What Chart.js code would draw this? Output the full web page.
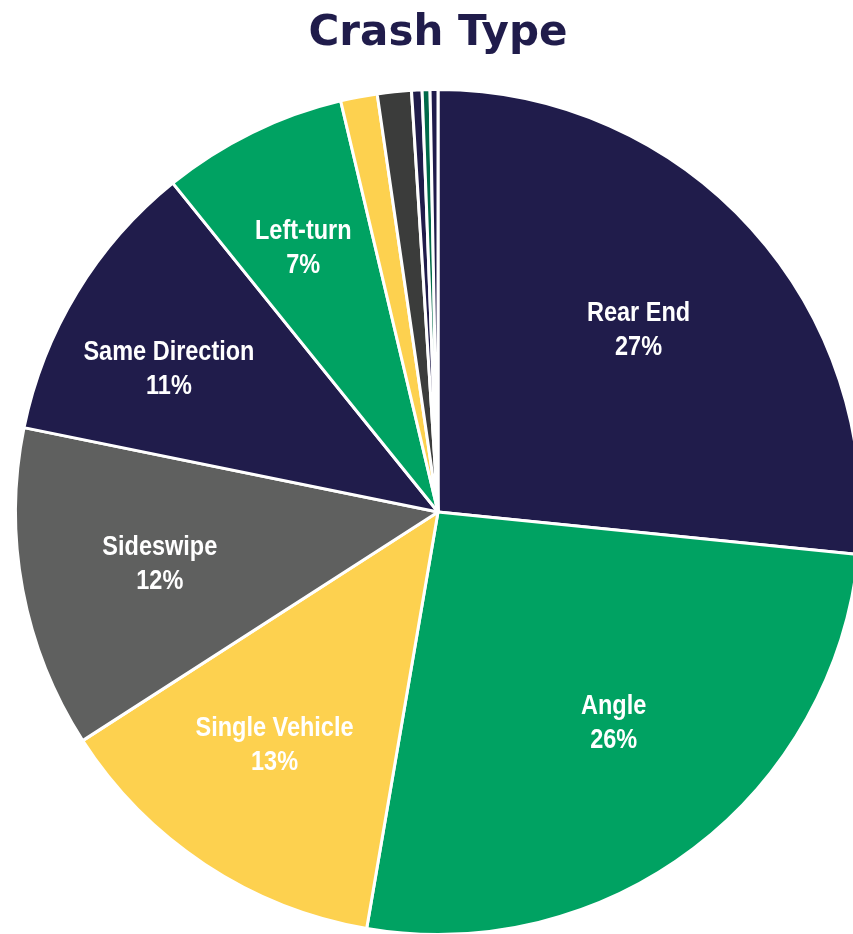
<!DOCTYPE html>
<html>
<head>
<meta charset="utf-8">
<script src="https://cdn.jsdelivr.net/npm/chart.js@4.4.1/dist/chart.umd.min.js"></script>
<style>
  html, body { margin: 0; padding: 0; background: #ffffff; overflow: hidden; }
  #wrap { position: relative; width: 853px; height: 934px; overflow: hidden; }
  #crashChart { position: absolute; left: 0; top: 0; }
</style>
</head>
<body>
<div id="wrap">
  <canvas id="crashChart" width="876" height="940"></canvas>
</div>
<script>
// ===== DATA =====
const crashTypes = ['Rear End', 'Angle', 'Single Vehicle', 'Sideswipe', 'Same Direction', 'Left-turn',
    'Head On', 'Other', 'Pedestrian', 'Right-turn', 'Bicycle'];
const crashShares = [26.6, 26.1, 13.2, 12.3, 11.0, 7.1, 1.4, 1.3, 0.4, 0.3, 0.3];
const sliceColors = ['#201c4b', '#00a262', '#fdd14f', '#5f605f', '#201c4b', '#00a262',
    '#fdd14f', '#3b3c3b', '#201c4b', '#006a49', '#201c4b'];

// label placement for the big slices: fraction of radius, and angle nudge in degrees
const labelRadius = [0.64, 0.65, 0.675, 0.67, 0.72, 0.70];
const labelNudge = [0, -2.5, 1.5, 0, -3.5, -1];

// ===== PLUGINS =====
const titlePlugin = {
    id: 'pageTitle',
    afterDraw(chart) {
        const ctx = chart.ctx;
        ctx.save();
        ctx.fillStyle = '#201c4b';
        ctx.font = 'bold 42px "DejaVu Sans", sans-serif';
        ctx.textAlign = 'center';
        ctx.textBaseline = 'alphabetic';
        ctx.fillText('Crash Type', 438, 45);
        ctx.restore();
    }
};

// narrow bold look: Liberation Sans squeezed horizontally
function narrowText(ctx, text, x, y) {
    const squeeze = 0.87;
    ctx.save();
    ctx.translate(x, y);
    ctx.scale(squeeze, 1);
    ctx.fillText(text, 0, 0);
    ctx.restore();
}

const sliceLabels = {
    id: 'sliceLabels',
    afterDatasetsDraw(chart) {
        const ctx = chart.ctx;
        const meta = chart.getDatasetMeta(0);
        ctx.save();
        ctx.fillStyle = '#ffffff';
        ctx.font = 'bold 27px "Liberation Sans", Arial, sans-serif';
        ctx.textAlign = 'center';
        ctx.textBaseline = 'middle';
        meta.data.forEach((arc, i) => {
            if (i >= labelRadius.length) return;
            const p = arc.getProps(['x', 'y', 'startAngle', 'endAngle', 'outerRadius'], true);
            const mid = (p.startAngle + p.endAngle) / 2 + labelNudge[i] * Math.PI / 180;
            const r = p.outerRadius * labelRadius[i];
            const x = p.x + Math.cos(mid) * r;
            const y = p.y + Math.sin(mid) * r;
            narrowText(ctx, crashTypes[i], x, y - 17);
            narrowText(ctx, Math.round(crashShares[i]) + '%', x, y + 17);
        });
        ctx.restore();
    }
};

// ===== CHART =====
new Chart(document.getElementById('crashChart'), {
    type: 'pie',
    data: {
        labels: crashTypes,
        datasets: [{
            data: crashShares,
            backgroundColor: sliceColors,
            borderColor: '#ffffff',
            borderWidth: 3
        }]
    },
    options: {
        responsive: false,
        animation: false,
        layout: {
            padding: { top: 88, bottom: 4, left: 14, right: 14 }
        },
        plugins: {
            legend: { display: false },
            tooltip: { enabled: false }
        }
    },
    plugins: [sliceLabels, titlePlugin]
});
</script>
</body>
</html>
